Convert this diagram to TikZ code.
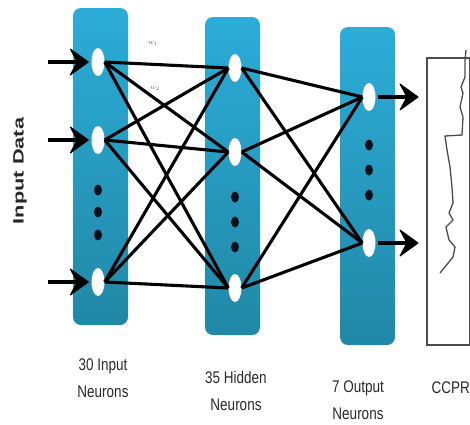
\documentclass[tikz,border=0pt]{standalone}
\usepackage{fontspec}
\setmainfont{Liberation Sans}
\usetikzlibrary{shapes.geometric}
\definecolor{colTop}{RGB}{44,172,216}
\definecolor{colBot}{RGB}{33,136,166}
\definecolor{dotc}{RGB}{8,16,28}
\definecolor{txt}{RGB}{40,40,40}
\begin{document}
\begin{tikzpicture}[x=1pt,y=-1pt,
  colbox/.style={rounded corners=8pt, top color=colTop, bottom color=colBot, draw=none},
  neuron/.style={ellipse, fill=white, minimum width=13pt, minimum height=28pt, inner sep=0pt},
  ndot/.style={ellipse, fill=dotc, minimum width=8pt, minimum height=11pt, inner sep=0pt},
  conn/.style={line width=3.1pt, black},
  shaft/.style={line width=4.5pt, black},
  headfill/.style={fill=black, line join=round, draw=black, line width=1pt},
  lbl/.style={align=center, text=txt, font=\fontsize{13.5}{27}\selectfont},
  wlbl/.style={text=gray!80!black, font=\fontsize{7.5}{8}\selectfont, inner sep=0pt}]
\useasboundingbox (0,0) rectangle (470,424);
% columns
\path[colbox] (73,8) rectangle (128,325);
\path[colbox] (205,17) rectangle (260,335);
\path[colbox] (340,27) rectangle (395,345);
% neurons
\node[neuron] (i1) at (98,62) {};
\node[neuron] (i2) at (98,140) {};
\node[neuron] (i3) at (98,282) {};
\node[neuron] (h1) at (235,68) {};
\node[neuron] (h2) at (235,152) {};
\node[neuron] (h3) at (235,288) {};
\node[neuron] (o1) at (369,97) {};
\node[neuron] (o2) at (369,243) {};
% dots
\node[ndot] (di1) at (98,190) {};
\node[ndot] (di2) at (98,212) {};
\node[ndot] (di3) at (98,235) {};
\node[ndot] (dh1) at (235,197) {};
\node[ndot] (dh2) at (235,222) {};
\node[ndot] (dh3) at (235,247) {};
\node[ndot] (do1) at (369,145) {};
\node[ndot] (do2) at (369,170) {};
\node[ndot] (do3) at (369,195) {};
% connections input -> hidden
\foreach \a in {i1,i2,i3}{
  \foreach \b in {h1,h2,h3}{
    \draw[conn] (\a.east) -- (\b.west);
  }
}
% hidden -> output
\foreach \a in {h1,h2,h3}{
  \foreach \b in {o1,o2}{
    \draw[conn] (\a.east) -- (\b.west);
  }
}
% weight labels
\node[wlbl] (w1) at (153,43) {$w_1$};
\node[wlbl] (w2) at (155,88) {$w_2$};
% input arrows
\coordinate (ia1) at (48,62);
\coordinate (ia2) at (48,140);
\coordinate (ia3) at (48,282);
\foreach \n in {1,2,3}{
  \draw[shaft, shorten >=10pt] (ia\n) -- (i\n.west);
  \draw[headfill] ([xshift=-3pt]i\n.west) -- ++(-18,-13) -- ++(7,13) -- ++(-7,13) -- cycle;
}
% output arrows
\coordinate (oa1) at (418,97);
\coordinate (oa2) at (418,243);
\foreach \n in {1,2}{
  \draw[shaft, shorten <=2pt, shorten >=10pt] (o\n.east) -- (oa\n);
  \draw[headfill] (oa\n) -- ++(-18,-13) -- ++(7,13) -- ++(-7,13) -- cycle;
}
% CCPR plot box
\draw[gray!60!black, line width=1.2pt] (427,58) rectangle (469.5,345);
\draw[gray!60!black, line width=1.3pt] (466,50) -- (465,60) -- (465,77) -- (461,87) -- (463,93) -- (460,107) -- (463,117) -- (462,135) -- (445,136) -- (447,150) -- (450,167) -- (452,187) -- (453,203) -- (449,213) -- (453,220) -- (446,227) -- (449,240) -- (455,247) -- (453,257) -- (440,273);
% labels
\node[rotate=90, text=txt, font=\bfseries\fontsize{15}{18}\selectfont] (title) at (20,171) {\scalebox{1.45}[1]{Input Data}};
\node[lbl] (l1) at (103,378) {\scalebox{1}[1.25]{30 Input}\\\scalebox{1}[1.25]{Neurons}};
\node[lbl] (l2) at (236,391) {\scalebox{1}[1.25]{35 Hidden}\\\scalebox{1}[1.25]{Neurons}};
\node[lbl] (l3) at (358,400) {\scalebox{1}[1.25]{7 Output}\\\scalebox{1}[1.25]{Neurons}};
\node[lbl, anchor=west] (l4) at (428,388) {\scalebox{1}[1.25]{CCPR}};
\end{tikzpicture}
\end{document}
